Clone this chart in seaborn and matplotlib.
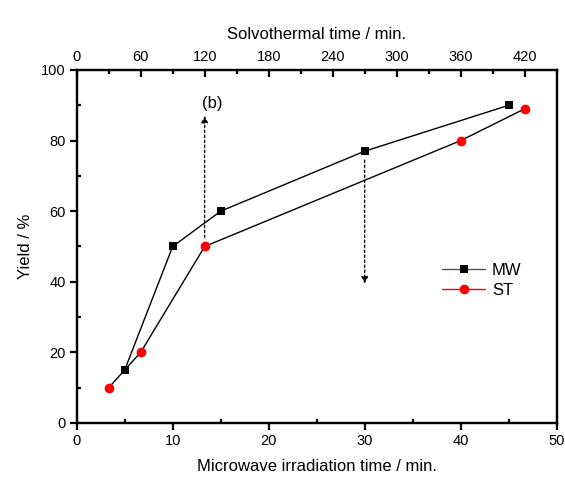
import matplotlib
matplotlib.use("Agg")
import matplotlib.pyplot as plt
import seaborn as sns
import pandas as pd
from matplotlib.lines import Line2D
from matplotlib.ticker import MultipleLocator

# Data
mw_time = [5, 10, 15, 30, 45]          # microwave irradiation time / min
mw_yield = [15, 50, 60, 77, 90]
st_time = [30, 60, 120, 360, 420]      # solvothermal time / min
st_yield = [10, 20, 50, 80, 89]

sns.set_theme(style="ticks")
plt.rcParams['font.family'] = ['Liberation Sans', 'DejaVu Sans']
plt.rcParams['text.color'] = 'black'
plt.rcParams['axes.labelcolor'] = 'black'
plt.rcParams['xtick.color'] = 'black'
plt.rcParams['ytick.color'] = 'black'

fig = plt.figure(figsize=(5.65, 4.8), dpi=100)
ax = fig.add_axes([0.1357, 0.1188, 0.8496, 0.7354])
ax2 = ax.twiny()

mw = pd.DataFrame({"t": mw_time, "y": mw_yield})
st = pd.DataFrame({"t": st_time, "y": st_yield})

sns.lineplot(data=mw, x="t", y="y", ax=ax, color="black", lw=1.0,
             marker="s", markersize=6, markeredgewidth=0, markerfacecolor="black",
             zorder=3)
sns.lineplot(data=st, x="t", y="y", ax=ax2, color="black", lw=1.0,
             marker="o", markersize=7, markeredgewidth=0, markerfacecolor="#ff0000",
             zorder=3)

ax.set_xlim(0, 50)
ax.set_ylim(0, 100)
ax2.set_xlim(0, 450)

ax.set_xlabel("Microwave irradiation time / min.", fontsize=12, labelpad=8, color="black")
ax.set_ylabel("Yield / %", fontsize=12, labelpad=6, color="black")
ax2.set_xlabel("Solvothermal time / min.", fontsize=12, labelpad=8, color="black")

ax.xaxis.set_major_locator(MultipleLocator(10))
ax.xaxis.set_minor_locator(MultipleLocator(5))
ax.yaxis.set_major_locator(MultipleLocator(20))
ax.yaxis.set_minor_locator(MultipleLocator(10))
ax2.xaxis.set_major_locator(MultipleLocator(60))
ax2.xaxis.set_minor_locator(MultipleLocator(30))

for a in (ax, ax2):
    for s in a.spines.values():
        s.set_linewidth(1.6)
        s.set_color("black")
        s.set_visible(True)

ax.tick_params(axis="both", which="major", direction="out", length=5, width=1.6,
               labelsize=10.5, colors="black", pad=3)
ax.tick_params(axis="both", which="minor", direction="in", length=3, width=1.6,
               colors="black")
ax.tick_params(axis="y", right=False, which="both")
ax2.tick_params(axis="x", which="major", direction="in", length=5, width=1.6,
                labelsize=10.5, pad=4, colors="black")
ax2.tick_params(axis="x", which="minor", direction="in", length=3, width=1.6,
                colors="black")

# dashed arrows
ax2.annotate("", xy=(120, 87), xytext=(120, 52.5),
             arrowprops=dict(arrowstyle="-|>", linestyle=(0, (2, 2)), lw=0.9,
                             color="black", mutation_scale=10, shrinkA=0, shrinkB=0))
ax.annotate("", xy=(30, 39.5), xytext=(30, 74.5),
            arrowprops=dict(arrowstyle="-|>", linestyle=(0, (2, 2)), lw=0.9,
                            color="black", mutation_scale=10, shrinkA=0, shrinkB=0))
ax.text(13.1, 90.5, "(b)", fontsize=12, va="center", ha="left", color="black")

handles = [
    Line2D([], [], color="#555555", lw=1.0, marker="s", markersize=6,
           markerfacecolor="black", markeredgewidth=0),
    Line2D([], [], color="#ff0000", lw=1.0, marker="o", markersize=7,
           markerfacecolor="#ff0000", markeredgewidth=0),
]
leg = ax.legend(handles, ["MW", "ST"], loc="center left", bbox_to_anchor=(0.73, 0.405),
                frameon=False, fontsize=12, handlelength=2.6, handletextpad=0.4,
                labelspacing=0.3)
for t in leg.get_texts():
    t.set_color("black")

fig.savefig("out.png", dpi=100)
